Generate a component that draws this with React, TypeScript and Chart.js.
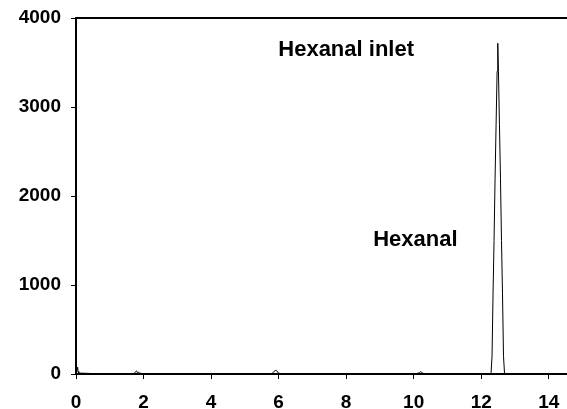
import React, { useEffect, useRef } from "react";
import { Chart, registerables } from "chart.js";

Chart.register(...registerables);

// Retention time (min)
const times = [
  0, 0.02, 0.04, 0.05, 0.06, 0.08, 0.12, 0.5, 1.0, 1.5, 1.72, 1.76, 1.79, 1.82, 1.85, 1.88, 1.92, 1.96,
  2.2, 3.0, 4.0, 5.0, 5.8, 5.86, 5.9, 5.94, 5.98, 6.04, 7.0, 8.0, 9.0, 10.1, 10.17, 10.21, 10.25, 10.3,
  11.0, 12.0, 12.29, 12.32, 12.35, 12.38, 12.41, 12.44, 12.47, 12.49, 12.51, 12.54, 12.57, 12.6, 12.63,
  12.66, 12.69, 13.0, 14.0, 14.54,
];
// Detector signal
const signal = [
  10, 20, 70, 75, 30, 15, 10, 5, 5, 5, 5, 25, 35, 15, 22, 10, 8, 5,
  5, 5, 5, 5, 5, 25, 40, 38, 15, 5, 5, 5, 5, 5, 15, 28, 12, 5,
  5, 5, 5, 200, 900, 1500, 2200, 2800, 3400, 3716, 3400, 2800, 2200, 1500, 900,
  200, 5, 5, 5, 5,
];

const yTicks = [0, 1000, 2000, 3000, 4000];
const xTicks = [0, 2, 4, 6, 8, 10, 12, 14];

const labelTexts = ["Hexanal inlet", "Hexanal"];
const labelX = [5.99, 8.8];
const labelY = [3573, 1441];

const FONT = "Arial, 'Liberation Sans', Helvetica, sans-serif";

export default function App() {
  const ref = useRef<HTMLCanvasElement | null>(null);

  useEffect(() => {
    if (!ref.current) return;
    const points = times.map((t, i) => ({ x: t, y: signal[i] }));

    const framePlugin = {
      id: "frameAndLabels",
      afterDatasetsDraw(chart: any) {
        const { ctx, chartArea, scales } = chart;
        ctx.save();
        ctx.strokeStyle = "#000";
        ctx.lineWidth = 2;
        ctx.beginPath();
        ctx.moveTo(chartArea.left - 1, chartArea.top);
        ctx.lineTo(chartArea.right + 2, chartArea.top);
        ctx.stroke();
        ctx.fillStyle = "#000";
        ctx.font = `bold 22px ${FONT}`;
        ctx.textAlign = "left";
        ctx.textBaseline = "alphabetic";
        labelTexts.forEach((txt, i) => {
          ctx.fillText(txt, scales.x.getPixelForValue(labelX[i]), scales.y.getPixelForValue(labelY[i]));
        });
        ctx.restore();
      },
    };

    const chart = new Chart(ref.current, {
      type: "line",
      data: {
        datasets: [
          {
            data: points,
            borderColor: "#000",
            borderWidth: 1,
            pointRadius: 0,
            tension: 0,
            fill: false,
          },
        ],
      },
      options: {
        animation: false,
        responsive: false,
        layout: { padding: { top: 18, right: 0, left: 0, bottom: 0 } },
        plugins: { legend: { display: false }, tooltip: { enabled: false } },
        scales: {
          x: {
            type: "linear",
            min: 0,
            max: 14.54,
            afterFit: (s: any) => {
              s.height = 35;
              s.paddingLeft = 0;
              s.paddingRight = 0;
            },
            afterBuildTicks: (s: any) => {
              s.ticks = xTicks.map((v) => ({ value: v }));
            },
            ticks: {
              includeBounds: false,
              color: "#000",
              font: { family: FONT, size: 19, weight: "bold" },
              padding: 12,
              maxRotation: 0,
              autoSkip: false,
              callback: (v: any) => String(v),
            },
            grid: {
              display: true,
              drawOnChartArea: false,
              drawTicks: true,
              tickLength: 5,
              color: "#000",
              lineWidth: 1,
            },
            border: { display: true, color: "#000", width: 2 },
          },
          y: {
            type: "linear",
            min: 0,
            max: 4000,
            afterFit: (s: any) => {
              s.width = 76;
              s.paddingTop = 0;
              s.paddingBottom = 0;
            },
            afterBuildTicks: (s: any) => {
              s.ticks = yTicks.map((v) => ({ value: v }));
            },
            ticks: {
              color: "#000",
              font: { family: FONT, size: 19, weight: "bold" },
              padding: 10,
              callback: (v: any) => String(v),
            },
            grid: {
              display: true,
              drawOnChartArea: false,
              drawTicks: true,
              tickLength: 5,
              color: "#000",
              lineWidth: 1,
            },
            border: { display: true, color: "#000", width: 2 },
          },
        },
      },
      plugins: [framePlugin],
    });
    return () => chart.destroy();
  }, []);

  return (
    <div style={{ position: "fixed", left: 0, top: 0, width: 567, height: 409, background: "#fff" }}>
      <canvas ref={ref} width={567} height={409} style={{ display: "block" }} />
    </div>
  );
}
